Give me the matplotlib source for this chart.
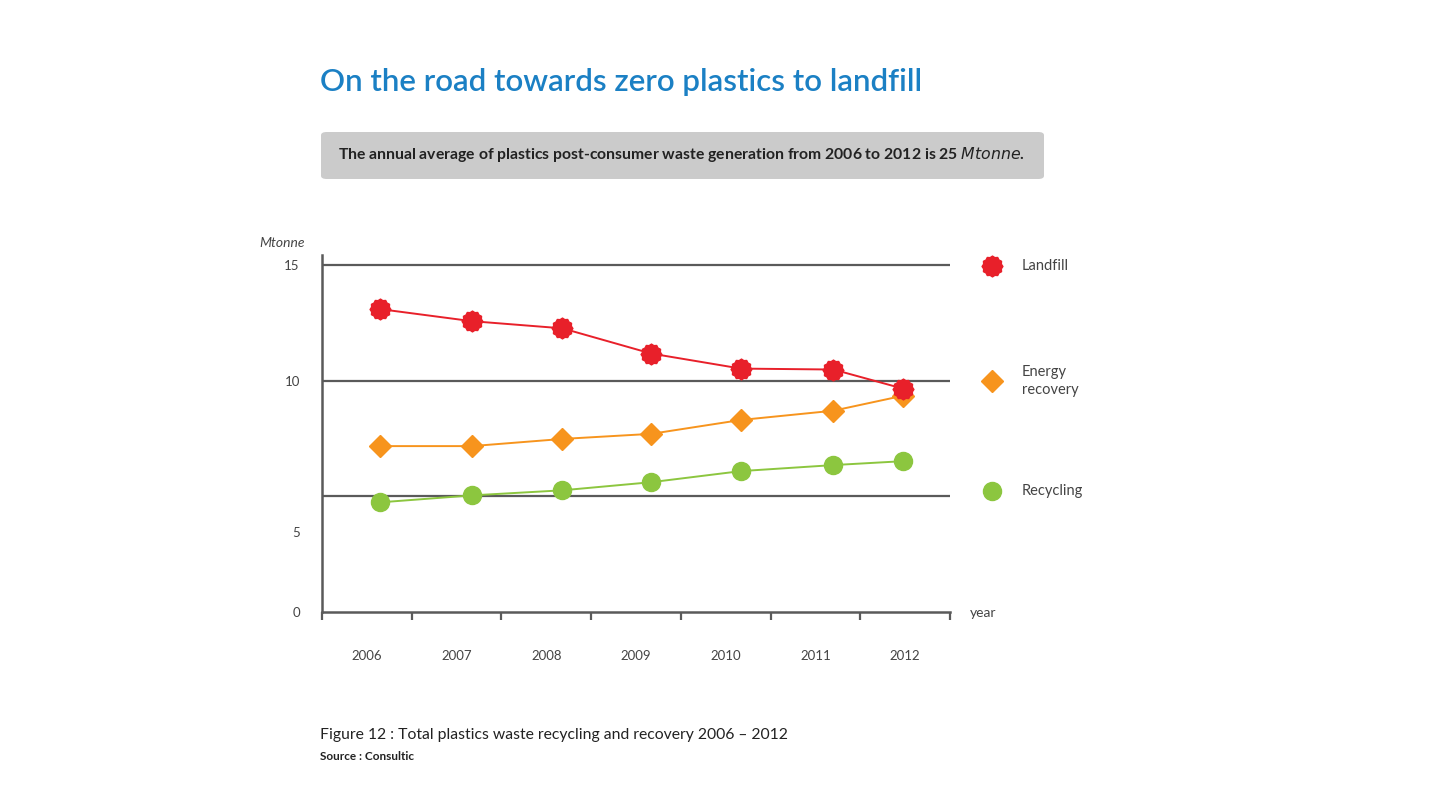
import numpy as np
import matplotlib
matplotlib.use("Agg")
import matplotlib.pyplot as plt
from matplotlib.path import Path
from matplotlib.lines import Line2D
from matplotlib.patches import FancyBboxPatch

plt.rcParams["font.family"] = ["Lato", "DejaVu Sans"]

# DATA (Mtonne)
years = [2006, 2007, 2008, 2009, 2010, 2011, 2012]
year_labels = ["2006", "2007", "2008", "2009", "2010", "2011", "2012"]
# markers sit a little right of the year centres in the original
marker_x = [2006.15, 2007.17, 2008.18, 2009.17, 2010.17, 2011.20, 2011.98]
landfill = [13.09, 12.57, 12.26, 11.17, 10.52, 10.48, 9.65]
energy_recovery = [7.17, 7.17, 7.48, 7.70, 8.30, 8.70, 9.35]
recycling = [4.74, 5.04, 5.26, 5.61, 6.09, 6.35, 6.52]
grid_values = [5, 10, 15]
ytick_values = [0, 3.46, 10, 15]   # the "5" label sits low in the original
ytick_labels = ["0", "5", "10", "15"]

RED = "#E8202A"
ORANGE = "#F7941D"
GREEN = "#8CC63F"
TITLE_BLUE = "#1B80C4"
AXIS_GREY = "#5a5a5a"
TEXT_GREY = "#444444"

# burst marker for landfill
n = 24
ang = np.linspace(0, 2 * np.pi, n, endpoint=False) + np.pi / 2
rad = np.where(np.arange(n) % 2 == 0, 1.0, 0.88)
verts = np.column_stack([rad * np.cos(ang), rad * np.sin(ang)])
verts = np.vstack([verts, verts[:1]])
burst = Path(verts, [Path.MOVETO] + [Path.LINETO] * (n - 1) + [Path.CLOSEPOLY])

fig = plt.figure(figsize=(14.4, 8.1), dpi=100)
ax = fig.add_axes([322 / 1440, (810 - 612) / 810, 628 / 1440, 357 / 810])

for g in grid_values:
    ax.axhline(g, color=AXIS_GREY, lw=1.6, zorder=1)

ax.plot(marker_x, recycling, color=GREEN, lw=1.4, marker="o", ms=13,
        mec=GREEN, zorder=3)
ax.plot(marker_x, energy_recovery, color=ORANGE, lw=1.4, marker="D", ms=11,
        mec=ORANGE, zorder=3)
ax.plot(marker_x, landfill, color=RED, lw=1.4, marker=burst, ms=15,
        mec=RED, zorder=4)

ax.set_xlim(years[0] - 0.5, years[-1] + 0.5)
ax.set_ylim(0, 15.43)

for s in ["top", "right"]:
    ax.spines[s].set_visible(False)
for s in ["left", "bottom"]:
    ax.spines[s].set_color(AXIS_GREY)
    ax.spines[s].set_linewidth(1.8)

ax.set_xticks(years, year_labels)
ax.set_xticks(np.arange(years[0] - 0.5, years[-1] + 0.6, 1.0), minor=True)
ax.tick_params(axis="x", which="major", length=0, pad=27, labelsize=9.5,
               labelcolor=TEXT_GREY)
ax.tick_params(axis="x", which="minor", length=6, width=1.6, color=AXIS_GREY,
               direction="out")
ax.set_yticks(ytick_values, ytick_labels)
ax.tick_params(axis="y", length=0, pad=16, labelsize=9.5, labelcolor=TEXT_GREY)

# axis captions
fig.text(305 / 1440, 1 - 243 / 810, "Mtonne", ha="right", va="center",
         fontsize=10, style="italic", color=TEXT_GREY)
fig.text(970 / 1440, 1 - 613 / 810, "year", ha="left", va="center",
         fontsize=10, color=TEXT_GREY)

# legend drawn by hand
legend_items = [
    ("Landfill", 266, dict(marker=burst, color=RED, ms=15)),
    ("Energy\nrecovery", 381, dict(marker="D", color=ORANGE, ms=11)),
    ("Recycling", 491, dict(marker="o", color=GREEN, ms=13)),
]
for label, ypx, style in legend_items:
    fy = 1 - ypx / 810
    fig.add_artist(Line2D([992 / 1440], [fy], linestyle="none",
                          marker=style["marker"], ms=style["ms"],
                          color=style["color"], mec=style["color"],
                          transform=fig.transFigure))
    fig.text(1022 / 1440, fy, label, ha="left", va="center", fontsize=10.5,
             color=TEXT_GREY, linespacing=1.4)

# title
fig.text(320 / 1440, 1 - 82 / 810, "On the road towards zero plastics to landfill",
         ha="left", va="center", fontsize=22.5, color=TITLE_BLUE, fontweight="semibold")

# grey info box
box = FancyBboxPatch((321 / 1440, 1 - 179 / 810), 723 / 1440, 47 / 810,
                     boxstyle="round,pad=0,rounding_size=0.004",
                     transform=fig.transFigure, facecolor="#CBCBCB",
                     edgecolor="none")
fig.add_artist(box)
fig.text(338 / 1440, 1 - 155 / 810,
         "The annual average of plastics post-consumer waste generation from 2006 to 2012 is 25 $\\it{Mtonne}$.",
         ha="left", va="center", fontsize=11.3, fontweight="bold", color="#222222")

# caption
fig.text(320 / 1440, 1 - 735 / 810,
         "Figure 12 : Total plastics waste recycling and recovery 2006 \u2013 2012",
         ha="left", va="center", fontsize=11.3, color="#222222")
fig.text(320 / 1440, 1 - 756 / 810, "Source : Consultic", ha="left",
         va="center", fontsize=8.5, fontweight="bold", color="#222222")

fig.savefig("out.png", dpi=100, facecolor="white")
